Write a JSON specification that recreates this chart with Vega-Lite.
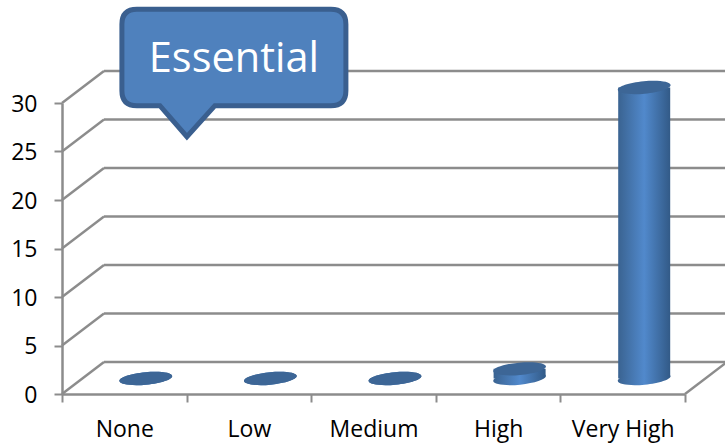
{
  "$schema": "https://vega.github.io/schema/vega-lite/v6.json",
  "width": 623,
  "height": 291,
  "autosize": {"type": "none"},
  "padding": {"left": 62, "top": 103, "right": 40, "bottom": 51},
  "background": "white",
  "config": {"view": {"stroke": null}, "font": "Open Sans"},
  "datasets": {
    "levels": [
      {"category": "None", "value": 0},
      {"category": "Low", "value": 0},
      {"category": "Medium", "value": 0},
      {"category": "High", "value": 1},
      {"category": "Very High", "value": 30}
    ],
    "gridlines": [
      {"level": 0}, {"level": 5}, {"level": 10}, {"level": 15},
      {"level": 20}, {"level": 25}, {"level": 30}
    ],
    "note": [{"label": "Essential"}]
  },
  "data": {"name": "levels"},
  "encoding": {
    "x": {
      "field": "category",
      "type": "nominal",
      "sort": ["None", "Low", "Medium", "High", "Very High"],
      "scale": {"paddingInner": 0, "paddingOuter": 0},
      "axis": {
        "title": null,
        "labelAngle": 0,
        "labelFont": "Open Sans",
        "labelFontSize": 23,
        "labelColor": "black",
        "labelPadding": 27,
        "labelBaseline": "middle",
        "tickBand": "extent",
        "tickExtra": true,
        "tickSize": 8,
        "tickWidth": 2,
        "tickColor": "#8c8c8c",
        "domainColor": "#8c8c8c",
        "domainWidth": 2.5
      }
    }
  },
  "layer": [
    {
      "data": {"name": "gridlines"},
      "mark": {"type": "rule", "color": "#8c8c8c", "strokeWidth": 2.4, "xOffset": -20.3, "x2Offset": 104.3, "yOffset": -32, "y2Offset": -32},
      "encoding": {
        "x": {"datum": "None", "type": "nominal"},
        "x2": {"datum": "Very High"},
        "y": {
          "field": "level",
          "type": "quantitative",
          "scale": {"domain": [0, 30], "nice": false},
          "axis": {
            "title": null,
            "grid": false,
            "values": [0, 5, 10, 15, 20, 25, 30],
            "labelFont": "Open Sans",
            "labelFontSize": 23,
            "labelColor": "black",
            "labelPadding": 17,
            "labelOffset": 1,
            "tickSize": 8,
            "tickWidth": 2,
            "tickColor": "#8c8c8c",
            "domainColor": "#8c8c8c",
            "domainWidth": 2.5
          }
        },
        "y2": {"field": "level"}
      }
    },
    {
      "data": {"name": "gridlines"},
      "mark": {"type": "rule", "color": "#8c8c8c", "strokeWidth": 2.4, "xOffset": -62.3, "x2Offset": -20.3, "yOffset": 0, "y2Offset": -32},
      "encoding": {
        "x": {"datum": "None", "type": "nominal"},
        "x2": {"datum": "None"},
        "y": {"field": "level", "type": "quantitative"},
        "y2": {"field": "level"}
      }
    },
    {
      "data": {"values": [{"level": 0}]},
      "mark": {"type": "rule", "color": "#8c8c8c", "strokeWidth": 2.4, "xOffset": 62.3, "x2Offset": 104.3, "yOffset": 0, "y2Offset": -32},
      "encoding": {
        "x": {"datum": "Very High", "type": "nominal"},
        "x2": {"datum": "Very High"},
        "y": {"field": "level", "type": "quantitative"},
        "y2": {"field": "level"}
      }
    },
    {
      "mark": {
        "type": "point",
        "filled": true,
        "opacity": 1,
        "size": 40000,
        "xOffset": 21.5,
        "yOffset": -15.5,
        "shape": "M0.2638 -0.0254 C0.2671 0.0087 0.1516 0.0477 0.0059 0.0617 C-0.1398 0.0757 -0.2605 0.0595 -0.2638 0.0254 C-0.2671 -0.0087 -0.1516 -0.0477 -0.0059 -0.0617 C0.1398 -0.0757 0.2605 -0.0595 0.2638 -0.0254 Z",
        "fill": {
          "gradient": "linear", "x1": 0, "y1": 0, "x2": 1, "y2": 0,
          "stops": [
            {"offset": 0, "color": "#3a6391"},
            {"offset": 0.5, "color": "#5189cc"},
            {"offset": 1, "color": "#325a87"}
          ]
        }
      },
      "encoding": {
        "y": {"datum": 0, "type": "quantitative"}
      }
    },
    {
      "transform": [{"filter": "datum.value > 0"}],
      "mark": {
        "type": "bar",
        "width": 52,
        "xOffset": 21.5,
        "yOffset": -15.5,
        "y2Offset": -15.5,
        "cornerRadiusBottomRight": 4,
        "fill": {
          "gradient": "linear", "x1": 0, "y1": 0, "x2": 1, "y2": 0,
          "stops": [
            {"offset": 0, "color": "#3a6391"},
            {"offset": 0.5, "color": "#5189cc"},
            {"offset": 1, "color": "#325a87"}
          ]
        }
      },
      "encoding": {
        "y": {"field": "value", "type": "quantitative", "stack": null},
        "y2": {"datum": 0}
      }
    },
    {
      "mark": {
        "type": "point",
        "filled": true,
        "opacity": 1,
        "size": 40000,
        "xOffset": 21.5,
        "yOffset": -15.5,
        "color": "#3d6696",
        "shape": "M0.2638 -0.0254 C0.2671 0.0087 0.1516 0.0477 0.0059 0.0617 C-0.1398 0.0757 -0.2605 0.0595 -0.2638 0.0254 C-0.2671 -0.0087 -0.1516 -0.0477 -0.0059 -0.0617 C0.1398 -0.0757 0.2605 -0.0595 0.2638 -0.0254 Z"
      },
      "encoding": {
        "y": {"field": "value", "type": "quantitative"}
      }
    },
    {
      "data": {"name": "note"},
      "mark": {
        "type": "point",
        "filled": true,
        "opacity": 1,
        "size": 40000,
        "xOffset": -15,
        "fill": "#4f81bd",
        "stroke": "#3a5f8f",
        "strokeWidth": 5,
        "strokeOpacity": 1,
        "shape": "M-0.97 -0.4825 L0.97 -0.4825 Q1.12 -0.4825 1.12 -0.3325 L1.12 0.3325 Q1.12 0.4825 0.97 0.4825 L-0.19 0.4825 L-0.47 0.7925 L-0.74 0.4825 L-0.97 0.4825 Q-1.12 0.4825 -1.12 0.3325 L-1.12 -0.3325 Q-1.12 -0.4825 -0.97 -0.4825 Z"
      },
      "encoding": {
        "x": {"datum": "Low", "type": "nominal"},
        "y": {"datum": 34.7, "type": "quantitative"}
      }
    },
    {
      "data": {"name": "note"},
      "mark": {
        "type": "text",
        "color": "white",
        "fontSize": 41.5,
        "font": "Open Sans",
        "xOffset": -15,
        "yOffset": 3,
        "align": "center",
        "baseline": "middle"
      },
      "encoding": {
        "x": {"datum": "Low", "type": "nominal"},
        "y": {"datum": 34.7, "type": "quantitative"},
        "text": {"field": "label"}
      }
    }
  ]
}
